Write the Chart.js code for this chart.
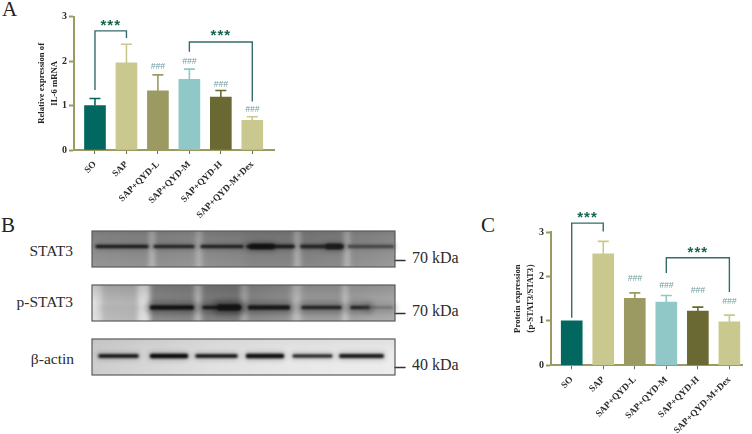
<!DOCTYPE html>
<html>
<head>
<meta charset="utf-8">
<script src="https://cdn.jsdelivr.net/npm/chart.js@4"></script>
<style>
  html, body { margin: 0; padding: 0; background: #fff; width: 752px; height: 434px; overflow: hidden; }
  canvas { position: absolute; }
  .t { position: absolute; font-family: "Liberation Serif", serif; color: #2b2b2b; line-height: 1; white-space: nowrap; }
  .panel { font-size: 21px; color: #222; }
  .row { font-size: 15.5px; text-align: right; width: 80px; }
  .kda { font-size: 16px; }
</style>
</head>
<body>
<div class="t panel" style="left:2px;top:-1px">A</div>
<div class="t panel" style="left:1px;top:215px">B</div>
<div class="t panel" style="left:481px;top:215px">C</div>
<div class="t row" style="left:-7px;top:243px">STAT3</div>
<div class="t row" style="left:-7px;top:294px">p-STAT3</div>
<div class="t row" style="left:-6px;top:351px">β-actin</div>
<div class="t kda" style="left:412px;top:250px">70 kDa</div>
<div class="t kda" style="left:412px;top:303px">70 kDa</div>
<div class="t kda" style="left:412px;top:357px">40 kDa</div>
<canvas id="blot"></canvas>
<canvas id="chartA"></canvas>
<canvas id="chartC"></canvas>
<script>
const categories = ['SO', 'SAP', 'SAP+QYD-L', 'SAP+QYD-M', 'SAP+QYD-H', 'SAP+QYD-M+Dex'];
const barColors = ['#02685f', '#c9c98f', '#9a9a62', '#90c8c8', '#6a6933', '#c9c98f'];

// panel A
const il6Means = [1.0, 1.96, 1.33, 1.59, 1.19, 0.67];
const il6Tops = [1.16, 2.38, 1.69, 1.82, 1.34, 0.75];
const il6Hash = [null, null, 1.87, 1.98, 1.47, 0.9];
const il6Brackets = [
  { from: 0, to: 1, top: 2.68, left: 1.35, right: 2.52, stars: 2.86 },
  { from: 3, to: 5, top: 2.43, left: 2.21, right: 1.09, stars: 2.63 }
];

// panel C
const ratioMeans = [1.0, 2.51, 1.51, 1.42, 1.22, 0.98];
const ratioTops = [1.0, 2.79, 1.63, 1.57, 1.31, 1.13];
const ratioHash = [null, null, 1.94, 1.79, 1.67, 1.43];
const ratioBrackets = [
  { from: 0, to: 1, top: 3.2, left: 1.07, right: 3.01, stars: 3.39 },
  { from: 3, to: 5, top: 2.42, left: 2.08, right: 1.65, stars: 2.6 }
];

// panel B, band positions read along the membrane (0-303)
const stat3Left = [5, 63, 110, 156, 160, 210, 236, 257];
const stat3Right = [55, 101, 150, 201, 180, 250, 248, 301];
const stat3Width = [3, 3, 3, 3.5, 5, 3.5, 5, 2.5];
const stat3Gray = [20, 30, 25, 20, 15, 30, 20, 55];

const pstat3Left = [11, 60, 112, 128, 158, 211, 260, 275];
const pstat3Right = [45, 100, 147, 146, 196, 248, 276, 300];
const pstat3Width = [1, 4.5, 3.5, 6, 4.5, 3.5, 3.5, 1.5];
const pstat3Gray = [175, 15, 20, 15, 20, 30, 30, 95];

const actinLeft = [8, 60, 105, 156, 202, 249];
const actinRight = [45, 94, 144, 190, 239, 290];
const actinWidth = [3.5, 4.5, 3.5, 4.5, 3, 4];
const actinGray = [15, 10, 15, 15, 25, 25];

const markerValues = [29.5, 82.5, 136.5];

// lane shading along each membrane: position, gray level
const stat3Shade = [[0, 145], [55, 140], [60, 190], [65, 140], [102, 145], [107, 185], [112, 140], [150, 135], [158, 130], [200, 130], [205, 185], [211, 130], [250, 135], [255, 190], [260, 140], [303, 150]];
const pstat3Shade = [[0, 228], [8, 215], [12, 185], [44, 180], [47, 222], [56, 222], [60, 135], [100, 130], [106, 195], [112, 125], [146, 120], [152, 175], [158, 135], [196, 145], [205, 195], [212, 155], [248, 155], [253, 205], [258, 160], [303, 170]];
const actinShade = [[0, 205], [60, 215], [120, 225], [200, 232], [303, 236]];

const serif = '"Liberation Serif", serif';
const axisColor = '#9a9a62';

// error bars, significance brackets and ### marks, placed through the chart scales
const annotationPlugin = {
  id: 'annotations',
  afterDatasetsDraw(chart, args, opts) {
    const { ctx, scales: { x, y } } = chart;
    ctx.save();
    opts.tops.forEach((top, i) => {
      if (top === opts.means[i]) return;
      const px = x.getPixelForValue(i);
      const py = y.getPixelForValue(top);
      ctx.strokeStyle = barColors[i];
      ctx.lineWidth = 1.6;
      ctx.beginPath();
      ctx.moveTo(px, y.getPixelForValue(opts.means[i]));
      ctx.lineTo(px, py);
      ctx.moveTo(px - 5.5, py);
      ctx.lineTo(px + 5.5, py);
      ctx.stroke();
    });
    ctx.textAlign = 'center';
    ctx.textBaseline = 'middle';
    ctx.font = 'italic 8.5px "Liberation Sans", sans-serif';
    ctx.fillStyle = '#6f9ca0';
    opts.hash.forEach((h, i) => {
      if (h !== null) ctx.fillText('###', x.getPixelForValue(i), y.getPixelForValue(h));
    });
    opts.brackets.forEach(b => {
      const x0 = x.getPixelForValue(b.from);
      const x1 = x.getPixelForValue(b.to);
      ctx.strokeStyle = '#356c6b';
      ctx.lineWidth = 1.4;
      ctx.beginPath();
      ctx.moveTo(x0, y.getPixelForValue(b.left));
      ctx.lineTo(x0, y.getPixelForValue(b.top));
      ctx.lineTo(x1, y.getPixelForValue(b.top));
      ctx.lineTo(x1, y.getPixelForValue(b.right));
      ctx.stroke();
      ctx.fillStyle = '#15664f';
      ctx.font = 'bold 15px "Liberation Sans", sans-serif';
      ctx.letterSpacing = '1px';
      ctx.fillText('***', (x0 + x1) / 2, y.getPixelForValue(b.stars) + 3);
      ctx.letterSpacing = '0px';
    });
    ctx.restore();
  }
};

function makeBarChart(id, box, title, means, tops, hash, brackets, area) {
  const canvas = document.getElementById(id);
  canvas.style.left = box.left + 'px';
  canvas.style.top = box.top + 'px';
  canvas.style.width = box.width + 'px';
  canvas.style.height = box.height + 'px';
  canvas.width = box.width;
  canvas.height = box.height;
  return new Chart(canvas.getContext('2d'), {
    type: 'bar',
    data: {
      datasets: [{
        data: means.map((v, i) => ({ x: i, y: v })),
        backgroundColor: barColors,
        barThickness: 21
      }]
    },
    plugins: [annotationPlugin],
    options: {
      responsive: false,
      animation: false,
      devicePixelRatio: 1,
      layout: { padding: { left: area.titleLeft, top: area.top, right: area.right, bottom: 0 } },
      plugins: {
        legend: { display: false },
        tooltip: { enabled: false },
        annotations: { means, tops, hash, brackets }
      },
      scales: {
        x: {
          type: 'linear',
          offset: false,
          min: area.xMin,
          max: area.xMax,
          border: { color: axisColor, width: 2 },
          grid: { drawOnChartArea: false, offset: false, color: '#6f6f4a', tickLength: 4, tickWidth: 1 },
          afterBuildTicks: scale => { scale.ticks = categories.map((c, i) => ({ value: i })); },
          afterFit: scale => {
            scale.height = box.height - area.bottom;
            scale.paddingLeft = 0;
            scale.paddingRight = 0;
          },
          ticks: {
            autoSkip: false,
            minRotation: 45,
            maxRotation: 45,
            padding: 5,
            color: '#2a2a2a',
            font: { family: serif, weight: 'bold', size: 9.3 },
            callback: value => categories[value]
          }
        },
        y: {
          min: 0,
          max: 3,
          border: { color: axisColor, width: 2 },
          grid: { drawOnChartArea: false, color: axisColor, tickLength: 5, tickWidth: 2 },
          afterFit: scale => {
            scale.width = area.left - area.titleLeft;
            scale.paddingTop = 0;
            scale.paddingBottom = 0;
          },
          ticks: {
            stepSize: 1,
            padding: 2,
            color: '#2a2a2a',
            font: { family: serif, weight: 'bold', size: 10 }
          },
          title: {
            display: true,
            text: title,
            color: '#222',
            padding: 0,
            font: { family: serif, weight: 'bold', size: 8.7, lineHeight: 1.5 }
          }
        }
      }
    }
  });
}

makeBarChart('chartA', { left: 0, top: 0, width: 300, height: 226 },
  ['Relative expression of', 'IL-6 mRNA'], il6Means, il6Tops, il6Hash, il6Brackets,
  { left: 74, titleLeft: 35.5, top: 16.7, bottom: 150, right: 26, xMin: -0.667, xMax: 5.69 });

makeBarChart('chartC', { left: 475, top: 205, width: 277, height: 229 },
  ['Protein expression', '（p-STAT3/STAT3）'], ratioMeans, ratioTops, ratioHash, ratioBrackets,
  { left: 76, titleLeft: 36.5, top: 27, bottom: 160.3, right: 10, xMin: -0.657, xMax: 5.4 });

// membranes: shading behind the bands
const membranes = [
  { top: 0, shade: stat3Shade, topTone: 'rgba(0,0,0,0.16)', bottomTone: 'rgba(255,255,255,0.06)' },
  { top: 54, shade: pstat3Shade, topTone: 'rgba(0,0,0,0.14)', bottomTone: 'rgba(255,255,255,0.05)' },
  { top: 108, shade: actinShade, topTone: 'rgba(0,0,0,0.05)', bottomTone: 'rgba(0,0,0,0)' }
];
const membraneHeight = 36;

const blotPlugin = {
  id: 'blotMembranes',
  beforeDatasetsDraw(chart) {
    const { ctx, scales: { x, y } } = chart;
    membranes.forEach(m => {
      const left = x.getPixelForValue(0);
      const right = x.getPixelForValue(303);
      const top = y.getPixelForValue(m.top);
      const h = y.getPixelForValue(m.top + membraneHeight) - top;
      ctx.save();
      ctx.beginPath();
      ctx.rect(left, top, right - left, h);
      ctx.clip();
      ctx.filter = 'blur(2.2px)';
      const g = ctx.createLinearGradient(left, 0, right, 0);
      m.shade.forEach(s => g.addColorStop(s[0] / 303, `rgb(${s[1]},${s[1]},${s[1]})`));
      ctx.fillStyle = g;
      ctx.fillRect(left - 6, top - 6, right - left + 12, h + 12);
      ctx.filter = 'none';
      const v = ctx.createLinearGradient(0, top, 0, top + h);
      v.addColorStop(0, m.topTone);
      v.addColorStop(0.5, 'rgba(0,0,0,0)');
      v.addColorStop(1, m.bottomTone);
      ctx.fillStyle = v;
      ctx.fillRect(left, top, right - left, h);
      ctx.restore();
    });
  },
  beforeDatasetDraw(chart, args) {
    chart.ctx.save();
    const blur = chart.data.datasets[args.index].blur;
    if (blur) chart.ctx.filter = `blur(${blur}px)`;
  },
  afterDatasetDraw(chart) {
    chart.ctx.restore();
  },
  afterDatasetsDraw(chart) {
    const { ctx, scales: { x, y } } = chart;
    ctx.save();
    ctx.strokeStyle = '#5a5a5a';
    ctx.lineWidth = 1.2;
    membranes.forEach(m => {
      const top = y.getPixelForValue(m.top);
      ctx.strokeRect(x.getPixelForValue(0), top, x.getPixelForValue(303) - x.getPixelForValue(0), y.getPixelForValue(m.top + membraneHeight) - top);
    });
    ctx.restore();
  }
};

function bandSets(left, right, width, gray, level, haloWidth) {
  const halo = left.map((l, i) => ({
    data: [{ x: l, y: level }, { x: right[i], y: level }],
    borderColor: `rgba(${gray[i]},${gray[i]},${gray[i]},0.28)`,
    borderWidth: width[i] + haloWidth,
    blur: 2.5
  }));
  const core = left.map((l, i) => ({
    data: [{ x: l, y: level }, { x: right[i], y: level }],
    borderColor: `rgb(${gray[i]},${gray[i]},${gray[i]})`,
    borderWidth: width[i],
    blur: 0.9
  }));
  return halo.concat(core);
}

const markerSets = markerValues.map(v => ({
  data: [{ x: 303, y: v }, { x: 313, y: v }],
  borderColor: '#333',
  borderWidth: 1.5
}));

const blotCanvas = document.getElementById('blot');
blotCanvas.style.left = '90px';
blotCanvas.style.top = '229px';
blotCanvas.width = 318;
blotCanvas.height = 150;
blotCanvas.style.width = '318px';
blotCanvas.style.height = '150px';

new Chart(blotCanvas.getContext('2d'), {
  type: 'line',
  data: {
    datasets: [
      ...bandSets(stat3Left, stat3Right, stat3Width, stat3Gray, 15.5, 4),
      ...bandSets(pstat3Left, pstat3Right, pstat3Width, pstat3Gray, 76.5, 9),
      ...bandSets(actinLeft, actinRight, actinWidth, actinGray, 125, 3),
      ...markerSets
    ].map(d => ({ ...d, pointRadius: 0, clip: false, borderCapStyle: 'round' }))
  },
  plugins: [blotPlugin],
  options: {
    responsive: false,
    animation: false,
    devicePixelRatio: 1,
    layout: { padding: { left: 2, top: 2, right: 13, bottom: 3 } },
    plugins: { legend: { display: false }, tooltip: { enabled: false } },
    scales: {
      x: { type: 'linear', display: false, min: 0, max: 303 },
      y: { type: 'linear', display: false, reverse: true, min: 0, max: 145 }
    }
  }
});
</script>
</body>
</html>
